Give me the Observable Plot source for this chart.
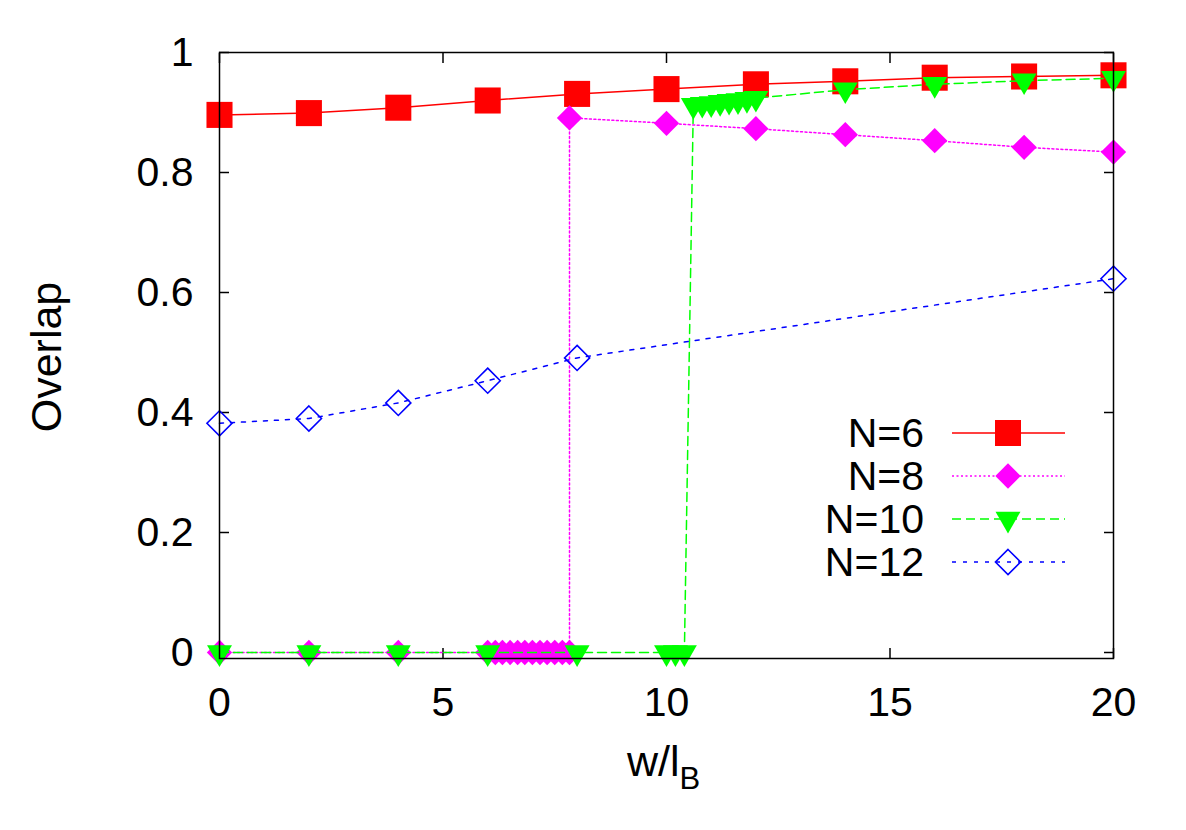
<!DOCTYPE html>
<html><head><meta charset="utf-8">
<script src="https://cdn.jsdelivr.net/npm/d3@7"></script>
<script src="https://cdn.jsdelivr.net/npm/@observablehq/plot@0.6"></script>
<style>body{margin:0;background:#fff} svg{display:block}</style>
</head><body><div id="chart"></div>
<script>
// ---- data ----
const seriesNames = ["N=6", "N=8", "N=10", "N=12"];
const x6 = [0, 2, 4, 6, 8, 10, 12, 14, 16, 18, 20];
const y6 = [0.896, 0.899, 0.908, 0.920, 0.931, 0.939, 0.947, 0.952, 0.958, 0.960, 0.962];
const x8 = [0, 2, 4, 6, 6.17, 6.33, 6.5, 6.67, 6.83, 7, 7.17, 7.33, 7.5, 7.67, 7.83, 7.83, 10, 12, 14, 16, 18, 20];
const y8 = [0, 0, 0, 0, 0, 0, 0, 0, 0, 0, 0, 0, 0, 0, 0, 0.891, 0.882, 0.873, 0.863, 0.853, 0.842, 0.834];
const x10 = [0, 2, 4, 6, 8, 10, 10.2, 10.4, 10.6, 10.8, 11, 11.2, 11.4, 11.6, 11.8, 12, 14, 16, 18, 20];
const y10 = [0, 0, 0, 0, 0, 0, 0, 0, 0.912, 0.914, 0.915, 0.917, 0.919, 0.920, 0.922, 0.924, 0.938, 0.947, 0.953, 0.957];
const x12 = [0, 2, 4, 6, 8, 20];
const y12 = [0.382, 0.390, 0.416, 0.453, 0.491, 0.623];
const xTicks = [0, 5, 10, 15, 20];
const yTicks = [0, 0.2, 0.4, 0.6, 0.8, 1];

const toRows = (xs, ys) => xs.map((x, i) => ({x, y: ys[i]}));
const d6 = toRows(x6, y6), d8 = toRows(x8, y8), d10 = toRows(x10, y10), d12 = toRows(x12, y12);

const triangleDown = {
  draw(context, size) {
    const s = Math.sqrt(size) * 0.6824, t = s / 2, u = s * Math.sqrt(3) / 2;
    context.moveTo(0, s); context.lineTo(u, -t); context.lineTo(-u, -t); context.closePath();
  }
};

const styles = [
  {color: "#ff0000", dash: null, symbol: "square", r: 14.7, fill: true},
  {color: "#ff00ff", dash: "2,2.5", symbol: "diamond2", r: 11.4, fill: true},
  {color: "#00ff00", dash: "9,5", symbol: triangleDown, r: 11.9, fill: true},
  {color: "#0000ff", dash: "4,7", symbol: "diamond2", r: 11.3, fill: false}
];
const datasets = [d6, d8, d10, d12];

const FONT = "'Liberation Sans', Arial, Helvetica, sans-serif";
const TICKFS = 41, TITLEFS = 43;
const marks = [];
datasets.forEach((d, i) => {
  const s = styles[i];
  marks.push(Plot.line(d, {x: "x", y: "y", stroke: s.color, strokeWidth: 1.5, strokeDasharray: s.dash}));
  marks.push(Plot.dot(d, {x: "x", y: "y", symbol: () => s.symbol, r: s.r,
    fill: s.fill ? s.color : "none", stroke: s.fill ? "none" : s.color, strokeWidth: 1.6}));
});

const chart = Plot.plot({
  width: 1186, height: 830,
  marginLeft: 219, marginRight: 73, marginTop: 52, marginBottom: 172,
  style: {fontFamily: FONT, background: "white", color: "black"},
  x: {domain: [0, 20]},
  y: {domain: [-0.01, 1]},
  symbol: {type: "identity"},
  marks: [
    Plot.axisX({ticks: xTicks, tickSize: 0, tickPadding: 28, fontSize: TICKFS, label: null, tickFormat: d => String(d)}),
    Plot.axisX({ticks: xTicks, anchor: "bottom", tickSize: -10, tickFormat: () => "", label: null, strokeWidth: 1.5}),
    Plot.axisX({ticks: xTicks, anchor: "top", tickSize: -10, tickFormat: () => "", label: null, strokeWidth: 1.5}),
    Plot.axisY({ticks: yTicks, tickSize: 0, tickPadding: 26, fontSize: TICKFS, label: null, tickFormat: d => String(d)}),
    Plot.axisY({ticks: yTicks, anchor: "left", tickSize: -10, tickFormat: () => "", label: null, strokeWidth: 1.5}),
    Plot.axisY({ticks: yTicks, anchor: "right", tickSize: -10, tickFormat: () => "", label: null, strokeWidth: 1.5}),
    ...marks,
    Plot.frame({stroke: "black", strokeWidth: 1.5})
  ]
});
document.getElementById("chart").appendChild(chart);

// ---- axis titles and legend ----
const svg = d3.select(chart);
svg.append("text")
  .attr("transform", "translate(46,357) rotate(-90)")
  .attr("text-anchor", "middle").attr("dominant-baseline", "central")
  .attr("font-family", FONT).attr("font-size", TITLEFS).attr("fill", "black")
  .text("Overlap");
const xt = svg.append("text")
  .attr("x", 627).attr("y", 776).attr("text-anchor", "start")
  .attr("font-family", FONT).attr("font-size", TITLEFS).attr("fill", "black");
xt.append("tspan").text("w/l");
xt.append("tspan").attr("dy", 13).attr("font-size", 31).text("B");

const legendY = [433, 476, 519, 562];
const lg = svg.append("g");
seriesNames.forEach((name, i) => {
  const s = styles[i], y = legendY[i];
  lg.append("text").attr("x", 924).attr("y", y).attr("text-anchor", "end")
    .attr("dominant-baseline", "central").attr("font-family", FONT).attr("font-size", TICKFS)
    .attr("fill", "black").text(name);
  lg.append("line").attr("x1", 952).attr("x2", 1065).attr("y1", y).attr("y2", y)
    .attr("stroke", s.color).attr("stroke-width", 1.5)
    .attr("stroke-dasharray", s.dash);
  const d3sym = s.symbol === "square" ? d3.symbolSquare : s.symbol === "diamond2" ? d3.symbolDiamond2 : s.symbol;
  lg.append("path").attr("transform", `translate(1008,${y})`)
    .attr("d", d3.symbol(d3sym, Math.PI * s.r * s.r)())
    .attr("fill", s.fill ? s.color : "none").attr("stroke", s.fill ? "none" : s.color)
    .attr("stroke-width", 1.6);
});
</script>
</body></html>
